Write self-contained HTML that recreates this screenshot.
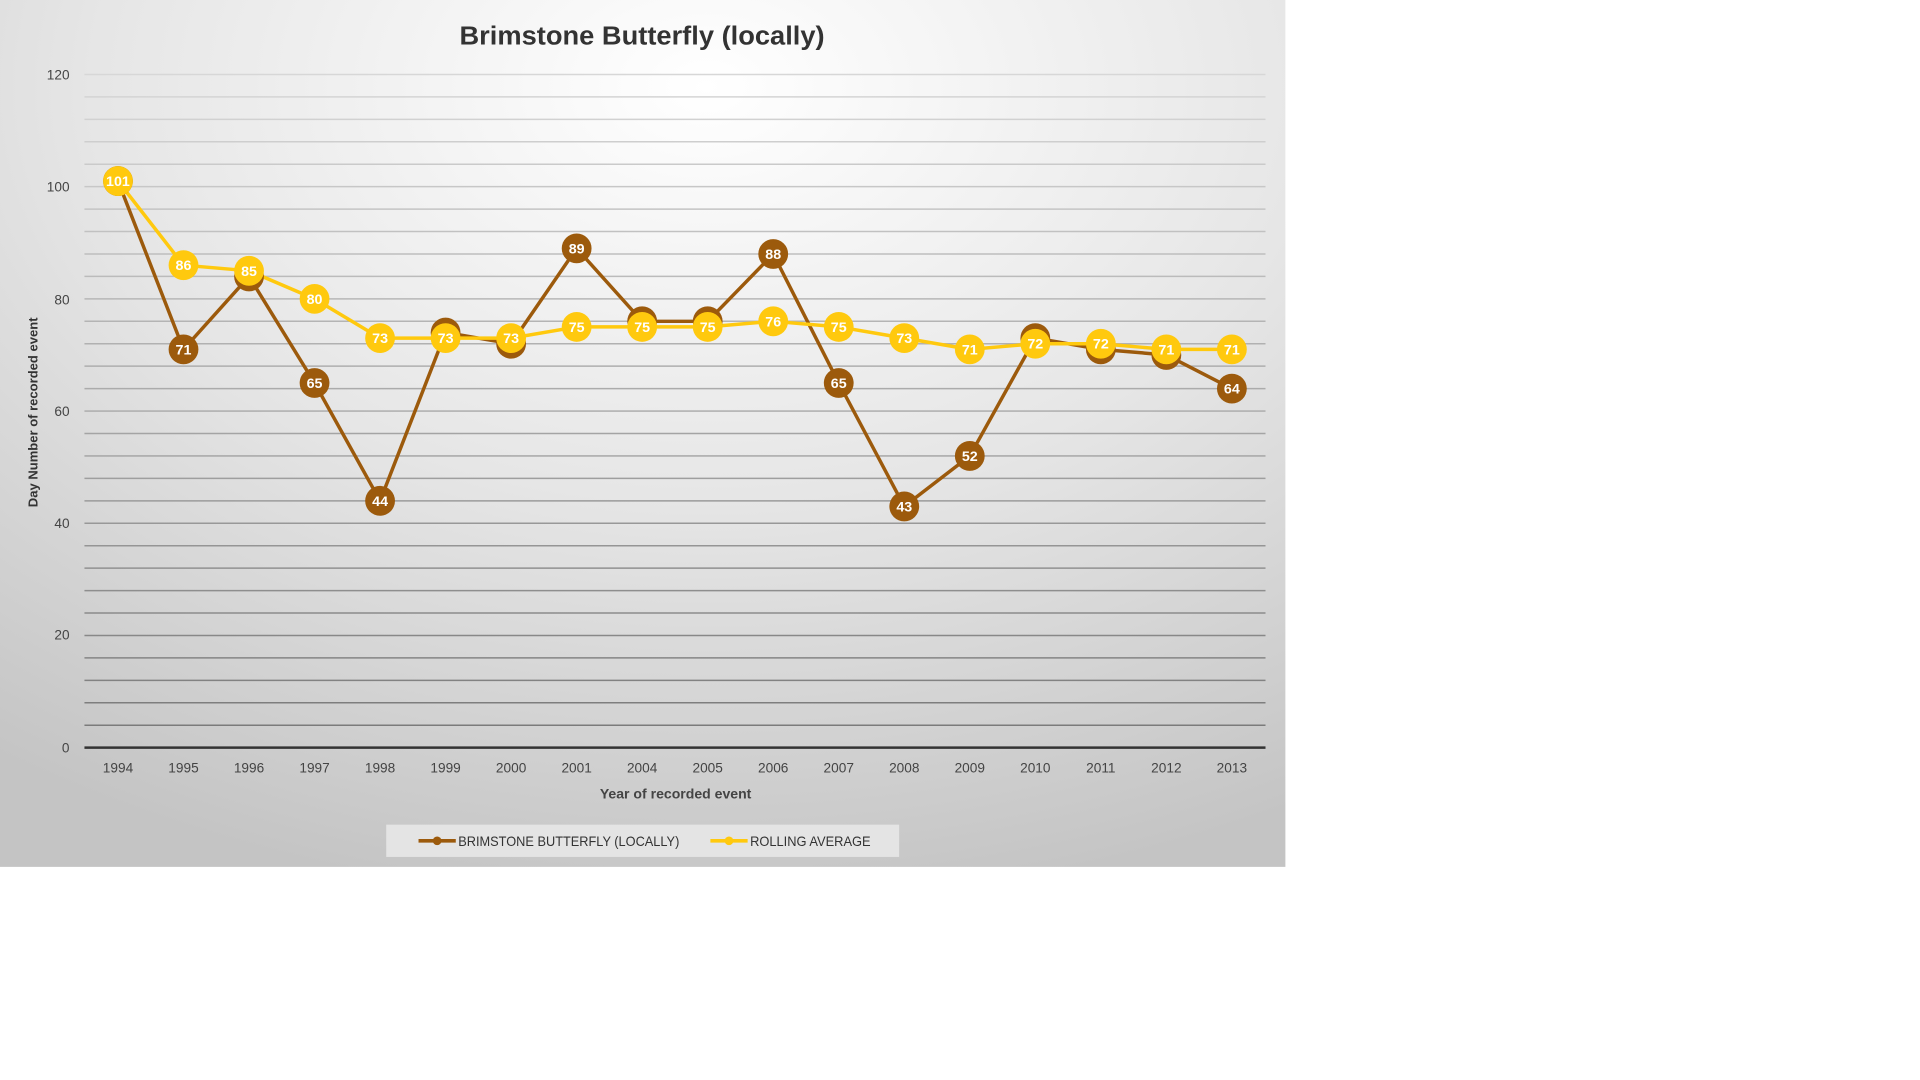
<!DOCTYPE html>
<html><head><meta charset="utf-8"><style>
html,body{margin:0;padding:0;background:#fff;width:1920px;height:1080px;overflow:hidden}
svg{display:block}
text{font-family:"Liberation Sans Narrow","Liberation Sans",sans-serif}
</style></head><body>
<svg width="1920" height="1080" viewBox="0 0 1546 869.6" preserveAspectRatio="none" xmlns="http://www.w3.org/2000/svg">
<defs>
<radialGradient id="bg" cx="0.55" cy="0.1" r="0.95">
<stop offset="0" stop-color="#ffffff"/>
<stop offset="0.5" stop-color="#e6e6e6"/>
<stop offset="1" stop-color="#c4c4c4"/>
</radialGradient>
</defs>
<rect x="0" y="0" width="1035" height="698" fill="url(#bg)"/>
<g id="grid"></g>
<text x="517" y="36" text-anchor="middle" font-size="21" font-weight="bold" fill="#333" textLength="294" lengthAdjust="spacingAndGlyphs" style="font-family:'Liberation Sans',sans-serif">Brimstone Butterfly (locally)</text>
<g font-size="11" fill="#444" text-anchor="end">
<text x="56" y="64">120</text><text x="56" y="154">100</text><text x="56" y="245">80</text><text x="56" y="335">60</text><text x="56" y="425">40</text><text x="56" y="515">20</text><text x="56" y="606">0</text>
</g>
<text transform="translate(30,332) rotate(-90)" text-anchor="middle" font-size="10.5" font-weight="bold" fill="#333">Day Number of recorded  event</text>
<text x="544" y="643" text-anchor="middle" font-size="11.5" font-weight="bold" fill="#444" textLength="122" lengthAdjust="spacingAndGlyphs">Year of recorded  event</text>
<g id="xl" font-size="11" fill="#444" text-anchor="middle"></g>
<g id="series"></g>
<rect x="311" y="664" width="413" height="26" fill="#e4e4e4"/>
<line x1="337" y1="677" x2="367" y2="677" stroke="#9c5a0c" stroke-width="3"/>
<circle cx="352" cy="677" r="3.5" fill="#9c5a0c"/>
<text x="369" y="681" font-size="11.5" fill="#333" textLength="178" lengthAdjust="spacingAndGlyphs">BRIMSTONE BUTTERFLY (LOCALLY)</text>
<line x1="572" y1="677" x2="602" y2="677" stroke="#ffc90e" stroke-width="3"/>
<circle cx="587" cy="677" r="3.5" fill="#ffc90e"/>
<text x="604" y="681" font-size="11.5" fill="#333" textLength="97" lengthAdjust="spacingAndGlyphs">ROLLING AVERAGE</text>
</svg>
<script>
const NS="http://www.w3.org/2000/svg";
function el(p,t,a,txt){const e=document.createElementNS(NS,t);for(const k in a)e.setAttribute(k,a[k]);if(txt!==undefined)e.textContent=txt;p.appendChild(e);return e;}
const Y=v=>602-v*4.517, X=i=>95+i*52.76;
const g=document.getElementById('grid');
for(let v=4;v<=120;v+=4){const t=v/120;const c=Math.round(120+ (215-120)*t);
el(g,'line',{x1:68,x2:1019,y1:Y(v),y2:Y(v),stroke:`rgb(${c},${c},${c})`,'stroke-width':1.2});}
el(g,'line',{x1:68,x2:1019,y1:602,y2:602,stroke:'#333','stroke-width':2});
const yrs=[1994,1995,1996,1997,1998,1999,2000,2001,2004,2005,2006,2007,2008,2009,2010,2011,2012,2013];
const xl=document.getElementById('xl');yrs.forEach((y,i)=>el(xl,'text',{x:X(i),y:622},y));
const b=[101,71,84,65,44,74,72,89,76,76,88,65,43,52,73,71,70,64];
const r=[101,86,85,80,73,73,73,75,75,75,76,75,73,71,72,72,71,71];
const s=document.getElementById('series');
function ser(d,c){el(s,'polyline',{points:d.map((v,i)=>X(i)+','+Y(v)).join(' '),fill:'none',stroke:c,'stroke-width':2.8,'stroke-linejoin':'round'});}
function mk(d,c){d.forEach((v,i)=>{el(s,'circle',{cx:X(i),cy:Y(v),r:12,fill:c});el(s,'text',{x:X(i),y:Y(v)+4,'text-anchor':'middle','font-size':11.5,fill:'#fff','font-weight':'bold'},v);});}
ser(b,'#9c5a0c');ser(r,'#ffc90e');mk(b,'#9c5a0c');mk(r,'#ffc90e');
</script>
</body></html>
